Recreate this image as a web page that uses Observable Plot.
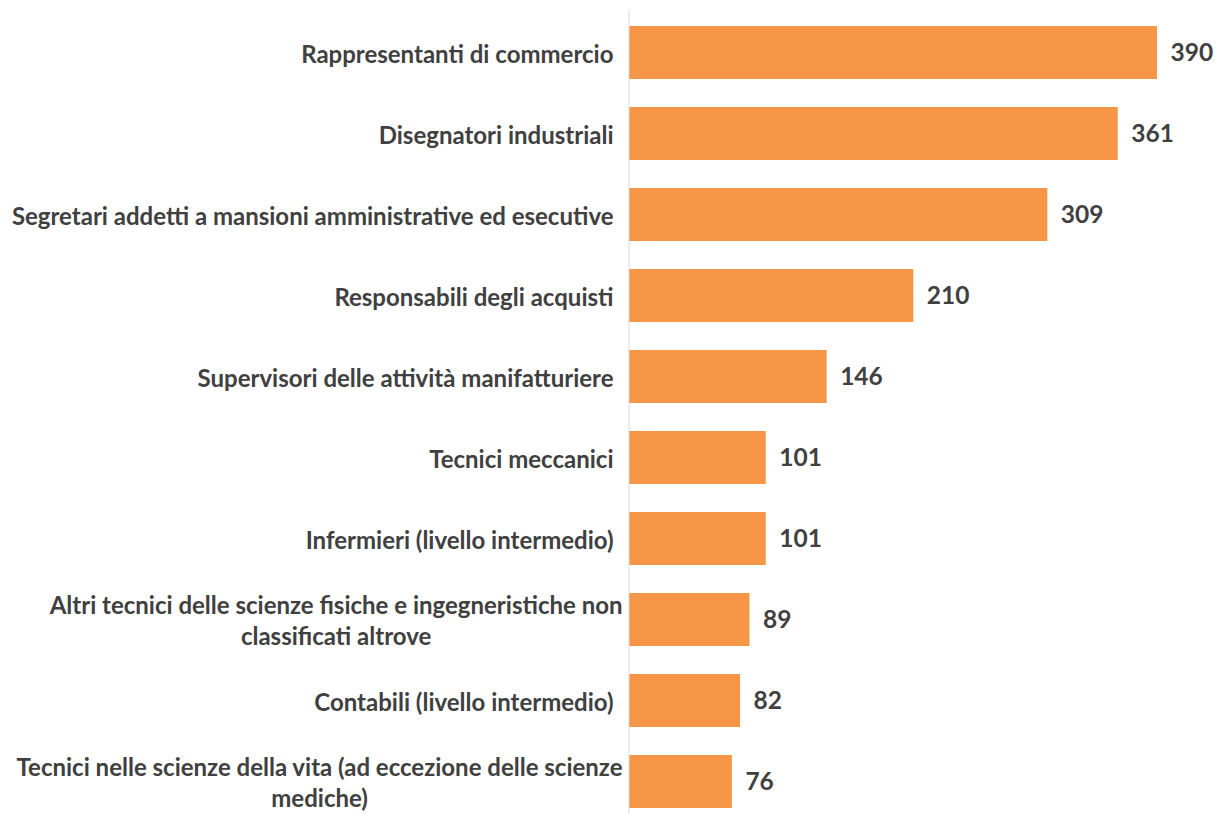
<!DOCTYPE html>
<html>
<head>
<meta charset="utf-8">
<script src="https://cdn.jsdelivr.net/npm/d3@7"></script>
<script src="https://cdn.jsdelivr.net/npm/@observablehq/plot@0.6"></script>
<style>
  html, body { margin: 0; padding: 0; background: #ffffff; }
  #chart { width: 1217px; height: 814px; overflow: hidden; }
</style>
</head>
<body>
<div id="chart"></div>
<script>
const categories = [
  "Rappresentanti di commercio",
  "Disegnatori industriali",
  "Segretari addetti a mansioni amministrative ed esecutive",
  "Responsabili degli acquisti",
  "Supervisori delle attività manifatturiere",
  "Tecnici meccanici",
  "Infermieri (livello intermedio)",
  "Altri tecnici delle scienze fisiche e ingegneristiche non\nclassificati altrove",
  "Contabili (livello intermedio)",
  "Tecnici nelle scienze della vita (ad eccezione delle scienze\nmediche)"
];
const values = [390, 361, 309, 210, 146, 101, 101, 89, 82, 76];

const data = categories.map((c, i) => ({label: c, value: values[i]}));

const textColor = "#404040";
const barColor = "#F79646";

const chart = Plot.plot({
  width: 1217,
  height: 814,
  marginLeft: 629,
  marginRight: 60,
  marginTop: 10,
  marginBottom: 0,
  style: {fontFamily: "Lato, 'Open Sans', sans-serif", background: "#ffffff"},
  x: {domain: [0, 390], axis: null},
  y: {domain: categories, range: [10, 825], paddingInner: 0.343, paddingOuter: 0.1715, axis: null},
  marks: [
    Plot.barX(data, {x: "value", y: "label", fill: barColor}),
    Plot.ruleX([0], {stroke: "#d9d9d9", strokeWidth: 1, dx: -0.5}),
    Plot.text(data, {
      x: "value", y: "label", text: d => String(d.value),
      textAnchor: "start", dx: 13, fontSize: 24.5, fontWeight: "bold", fill: textColor
    }),
    Plot.text(data, {
      x: 0, y: "label", text: "label",
      textAnchor: "end", dx: -16, fontSize: 24, lineHeight: 1.28,
      fontWeight: "bold", fill: textColor
    })
  ]
});

document.getElementById("chart").appendChild(chart);

// center the lines of multi-line labels within their block (as in the reference)
const svg = chart.tagName.toLowerCase() === "svg" ? chart : chart.querySelector("svg");
svg.querySelectorAll("text").forEach(t => {
  const spans = Array.from(t.children).filter(c => c.tagName.toLowerCase() === "tspan");
  if (spans.length > 1) {
    let w = 0;
    spans.forEach(s => { w = Math.max(w, s.getComputedTextLength()); });
    t.setAttribute("text-anchor", "middle");
    t.style.textAnchor = "middle";
    spans.forEach(s => s.setAttribute("x", String(-w / 2 + 9)));
  }
});
</script>
</body>
</html>
